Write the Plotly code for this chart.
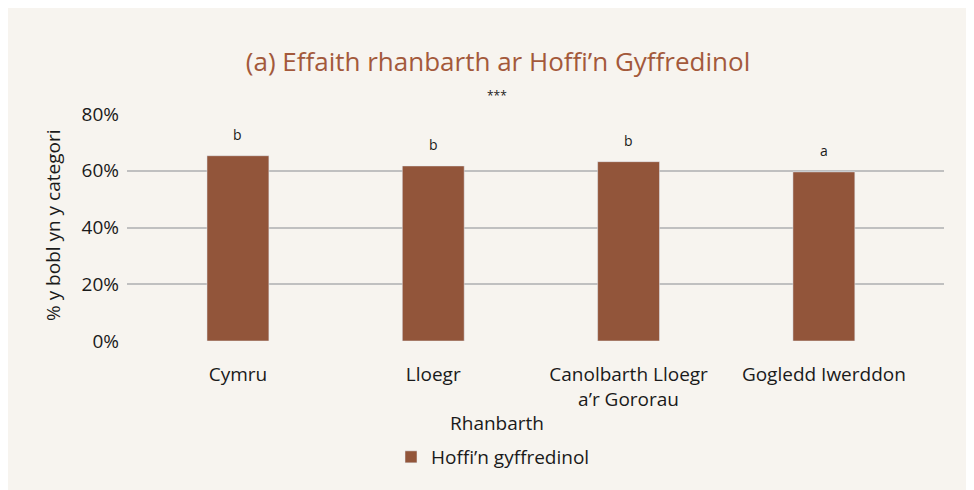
import plotly.graph_objects as go

categories = ["Cymru", "Lloegr", "Canolbarth Lloegr<br>a’r Gororau", "Gogledd Iwerddon"]
values = [0.653, 0.617, 0.632, 0.596]
sig_letters = ["b", "b", "b", "a"]
series_name = "Hoffi’n gyffredinol"
y_ticks = [0, 0.2, 0.4, 0.6, 0.8]
y_tick_labels = ["0%", "20%", "40%", "60%", "80%"]

FONT = "Open Sans, Noto Sans, sans-serif"
BG = "#f7f4ef"
BAR = "#92553a"
TITLE_C = "#a3593b"
TXT = "#1a1a1a"

# figure sits at the page's 8px offset and fills to the window edge
W, H = 966, 482
L, R, T, B = 119, 30, 106, 149
pw, ph = W - L - R, H - T - B

x_idx = list(range(len(categories)))


def px_x(p):
    return (p - L) / pw


def px_y(p):
    return (H - B - p) / ph


fig = go.Figure()
fig.add_trace(go.Bar(
    x=x_idx, y=values, name=series_name, marker_color=BAR, width=0.317,
    showlegend=True, hoverinfo="skip",
))

for i, (v, s) in enumerate(zip(values, sig_letters)):
    fig.add_annotation(x=i, y=v, text=s, showarrow=False, yshift=21,
                       font=dict(family=FONT, size=14, color=TXT))

fig.add_annotation(text="***", xref="paper", yref="paper", x=px_x(489), y=px_y(87),
                   xanchor="center", yanchor="middle",
                   showarrow=False, font=dict(family=FONT, size=12, color=TXT))
fig.add_annotation(text="Rhanbarth", xref="paper", yref="paper", x=px_x(489), y=px_y(415),
                   xanchor="center", yanchor="middle",
                   showarrow=False, font=dict(family=FONT, size=19, color=TXT))
fig.add_annotation(text="% y bobl yn y categori", xref="paper", yref="paper", x=px_x(45), y=px_y(218),
                   xanchor="center", yanchor="middle",
                   showarrow=False, textangle=-90, font=dict(family=FONT, size=19, color=TXT))

fig.update_layout(
    width=W, height=H,
    margin=dict(l=L, r=R, t=T, b=B),
    paper_bgcolor=BG, plot_bgcolor=BG,
    title=dict(text="(a) Effaith rhanbarth ar Hoffi’n Gyffredinol", x=px_x(490), xanchor="center",
               y=1 - 54 / H, yanchor="middle", xref="paper",
               font=dict(family=FONT, size=26, color=TITLE_C)),
    font=dict(family=FONT, size=19, color=TXT),
    xaxis=dict(tickmode="array", tickvals=x_idx, ticktext=categories, range=[-0.568, 3.615],
               showgrid=False, zeroline=False, showline=False, ticks="",
               tickfont=dict(size=19), ticklabelstandoff=20),
    yaxis=dict(range=[0, 0.8], tickmode="array", tickvals=y_ticks, ticktext=y_tick_labels,
               showgrid=True, gridcolor="#c0c0c0", gridwidth=1.5, zeroline=False, showline=False,
               tickfont=dict(size=19), ticks="", ticklabelstandoff=7),
    legend=dict(orientation="h", x=px_x(485), xanchor="center", y=px_y(449), yanchor="middle",
                font=dict(size=19), bgcolor="rgba(0,0,0,0)"),
)

fig.write_html("out.html")
